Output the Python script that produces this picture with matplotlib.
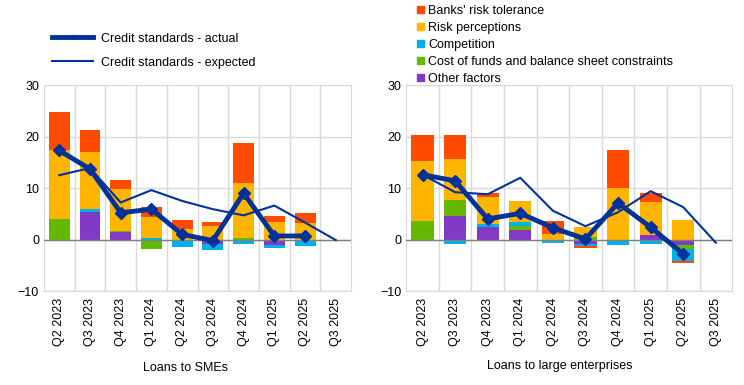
import matplotlib
matplotlib.use("Agg")
import matplotlib.pyplot as plt
import matplotlib.lines as mlines
import matplotlib.patches as mpatches
import numpy as np

plt.rcParams['font.family'] = ['Liberation Sans', 'DejaVu Sans']
plt.rcParams['font.size'] = 9

quarters = ["Q2 2023", "Q3 2023", "Q4 2023", "Q1 2024", "Q2 2024",
            "Q3 2024", "Q4 2024", "Q1 2025", "Q2 2025", "Q3 2025"]

# Loans to SMEs
sme_other = [0, 5.4, 1.5, 0, 0, -0.8, 0, -1.1, 0, np.nan]
sme_cost = [4.0, -0.3, 0.2, -1.8, 0, 0, 0.3, 0, -0.3, np.nan]
sme_competition = [-0.3, 0.5, -0.3, 0.3, -1.4, -1.2, -0.9, -0.5, -1.0, np.nan]
sme_risk = [13.3, 11.1, 8.1, 4.1, 2.0, 2.6, 10.7, 3.4, 3.2, np.nan]
sme_tolerance = [7.4, 4.2, 1.7, 1.9, 1.8, 0.8, 7.7, 1.1, 1.9, np.nan]
sme_actual = [17.3, 13.7, 5.2, 5.9, 1.0, -0.2, 9.0, 0.7, 0.7, np.nan]
sme_expected = [12.5, 13.9, 7.2, 9.6, 7.5, 5.9, 4.7, 6.6, 3.3, -0.1]

# Loans to large enterprises
le_other = [0, 4.6, 2.4, 1.8, 0, -0.9, 0, 0.9, -1.1, np.nan]
le_cost = [3.6, 3.1, -0.3, 0.8, 0, 0.5, 0, 0, -0.8, np.nan]
le_competition = [-0.3, -0.9, 0.6, 0.8, -0.7, -0.3, -1.1, -0.9, -2.3, np.nan]
le_risk = [11.7, 8.0, 5.3, 4.1, 1.1, 2.0, 10.1, 6.4, 3.8, np.nan]
le_tolerance = [5.1, 4.7, 0.7, -0.3, 2.5, -0.4, 7.2, 1.7, -0.3, np.nan]
le_actual = [12.6, 11.4, 4.0, 5.1, 2.3, 0.1, 7.1, 2.4, -2.8, np.nan]
le_expected = [12.6, 9.2, 8.8, 12.0, 5.6, 2.6, 5.3, 9.4, 6.3, -0.6]

factor_names = ["Other factors", "Cost of funds and balance sheet constraints",
                "Competition", "Risk perceptions", "Banks' risk tolerance"]
factor_colors = ["#8139C6", "#65B800", "#00B1EA", "#FFB400", "#FF4B00"]
navy = "#003299"


def draw_panel(ax, factors, actual, expected):
    x = np.arange(len(quarters))
    pos_bottom = np.zeros(len(quarters))
    neg_bottom = np.zeros(len(quarters))
    for vals, col in zip(factors, factor_colors):
        v = np.nan_to_num(np.array(vals, dtype=float))
        bottom = np.where(v >= 0, pos_bottom, neg_bottom)
        ax.bar(x, v, 0.68, bottom=bottom, color=col, zorder=2)
        pos_bottom += np.where(v > 0, v, 0)
        neg_bottom += np.where(v < 0, v, 0)
    ax.axhline(0, color="#808080", lw=1, zorder=3)
    ax.plot(x, expected, color=navy, lw=1.5, zorder=4)
    ax.plot(x, actual, color=navy, lw=3.5, marker="D", ms=6, zorder=5)
    ax.set_xlim(-0.5, len(quarters) - 0.5)
    ax.set_ylim(-10, 30)
    ax.set_yticks([-10, 0, 10, 20, 30])
    ax.set_xticks(x)
    ax.set_xticklabels(quarters, rotation=90)
    ax.set_xticks(x[:-1] + 0.5, minor=True)
    ax.tick_params(axis="both", which="both", length=0, labelsize=9)
    ax.tick_params(axis="x", pad=5)
    ax.grid(axis="y", color="#d9d9d9", lw=1, zorder=0)
    ax.grid(axis="x", which="minor", color="#d9d9d9", lw=1, zorder=0)
    for s in ax.spines.values():
        s.set_color("#d9d9d9")


fig = plt.figure(figsize=(7.44, 3.85), dpi=100)
ax1 = fig.add_axes([0.059, 0.244, 0.413, 0.535])
ax2 = fig.add_axes([0.546, 0.244, 0.438, 0.535])

draw_panel(ax1, [sme_other, sme_cost, sme_competition, sme_risk, sme_tolerance],
           sme_actual, sme_expected)
draw_panel(ax2, [le_other, le_cost, le_competition, le_risk, le_tolerance],
           le_actual, le_expected)

fig.text(0.249, 0.044, "Loans to SMEs", ha="center", va="center")
fig.text(0.753, 0.050, "Loans to large enterprises", ha="center", va="center")

line_handles = [
    mlines.Line2D([], [], color=navy, lw=3.5, marker="D", ms=2),
    mlines.Line2D([], [], color=navy, lw=1.5),
]
fig.legend(line_handles, ["Credit standards - actual", "Credit standards - expected"],
           loc="upper left", bbox_to_anchor=(0.07, 0.915), frameon=False,
           handlelength=3.3, handletextpad=0.6, labelspacing=0.95,
           borderaxespad=0, borderpad=0)

patch_handles = [mpatches.Patch(color=c) for c in factor_colors[::-1]]
fig.legend(patch_handles, factor_names[::-1],
           loc="upper left", bbox_to_anchor=(0.561, 0.987), frameon=False,
           handlelength=0.55, handleheight=0.55, handletextpad=0.3, labelspacing=0.4,
           borderaxespad=0, borderpad=0)

fig.savefig("out.png", dpi=100)
